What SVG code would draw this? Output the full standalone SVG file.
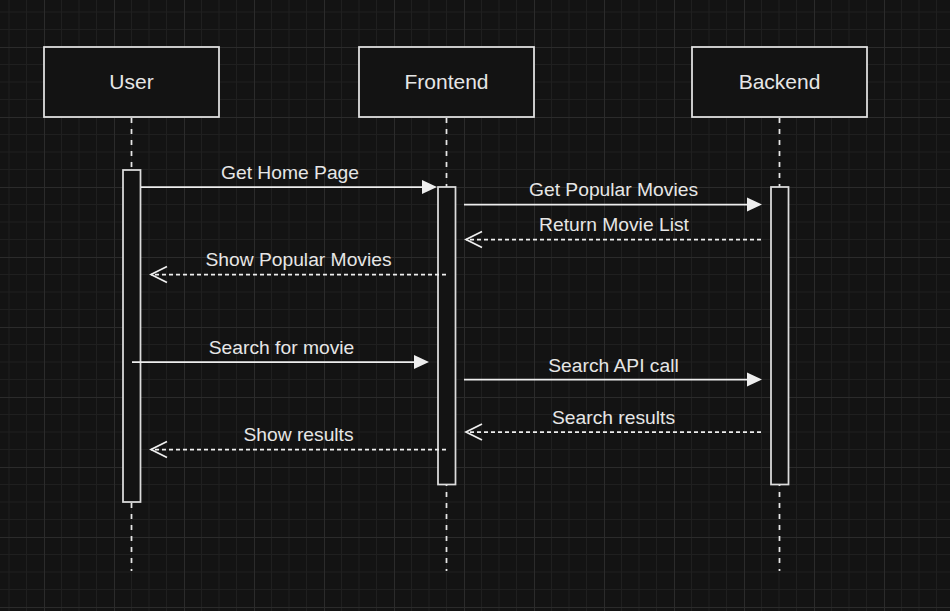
<svg xmlns="http://www.w3.org/2000/svg" width="950" height="611" viewBox="0 0 950 611">
<defs>
<pattern id="grid" patternUnits="userSpaceOnUse" x="44" y="47" width="70" height="70">
<rect width="70" height="70" fill="#131313"/>
<path d="M17.5 0V70M35 0V70M52.5 0V70M0 17.5H70M0 35H70M0 52.5H70" stroke="#1f1f1f" stroke-width="1" fill="none"/>
<path d="M0.5 0V70M0 0.5H70" stroke="#2b2b2b" stroke-width="1" fill="none"/>
</pattern>
<marker id="solidHead" markerUnits="userSpaceOnUse" viewBox="0 0 15 14" markerWidth="15" markerHeight="14" refX="1" refY="7" orient="auto" overflow="visible">
<path d="M0 0L15 7L0 14Z" fill="#eeeeee" stroke="none"/>
</marker>
<marker id="openHead" markerUnits="userSpaceOnUse" viewBox="0 0 16 16" markerWidth="16" markerHeight="16" refX="16" refY="8" orient="auto" overflow="visible">
<path d="M0 0L16 8L0 16" fill="none" stroke="#eeeeee" stroke-width="1.75" stroke-dasharray="none"/>
</marker>
</defs>
<style>
.box{fill:#131313;stroke:#e3e3e3;stroke-width:1.75}
.act{fill:#131313;stroke:#dddddd;stroke-width:1.75}
.life{stroke:#e6e6e6;stroke-width:1.75;stroke-dasharray:5 6;fill:none}
.title{font-family:"Liberation Sans",Arial,sans-serif;font-size:21px;fill:#e6e6e6;text-anchor:middle}
.lbl{font-family:"Liberation Sans",Arial,sans-serif;font-size:19.25px;fill:#e6e6e6;text-anchor:middle}
.msg{stroke:#eeeeee;stroke-width:1.75;fill:none}
.ret{stroke:#eeeeee;stroke-width:1.75;fill:none;stroke-dasharray:4 3}
</style>
<rect width="950" height="611" fill="url(#grid)"/>

<g id="lifelines">
<line class="life" x1="131.5" y1="118" x2="131.5" y2="571"/>
<line class="life" x1="446.5" y1="118" x2="446.5" y2="571"/>
<line class="life" x1="779.5" y1="118" x2="779.5" y2="571"/>
</g>

<g id="user">
<rect class="box" x="44" y="47" width="175" height="70"/>
<text class="title" x="131.5" y="89.3">User</text>
</g>
<g id="frontend">
<rect class="box" x="359" y="47" width="175" height="70"/>
<text class="title" x="446.5" y="89.3">Frontend</text>
</g>
<g id="backend">
<rect class="box" x="692" y="47" width="175" height="70"/>
<text class="title" x="779.5" y="89.3">Backend</text>
</g>

<g id="user-activation">
<rect class="act" x="123" y="170" width="17.5" height="332"/>
</g>
<g id="frontend-activation">
<rect class="act" x="438" y="187" width="17.5" height="297.5"/>
</g>
<g id="backend-activation">
<rect class="act" x="771" y="187" width="17.5" height="297.5"/>
</g>

<g id="connectors">
<line class="msg" x1="141" y1="187" x2="423" y2="187" marker-end="url(#solidHead)"/>
<line class="msg" x1="464" y1="204.5" x2="748" y2="204.5" marker-end="url(#solidHead)"/>
<line class="ret" x1="761" y1="239.5" x2="466" y2="239.5" marker-end="url(#openHead)"/>
<line class="ret" x1="446" y1="274.5" x2="151" y2="274.5" marker-end="url(#openHead)"/>
<line class="msg" x1="132" y1="362" x2="415" y2="362" marker-end="url(#solidHead)"/>
<line class="msg" x1="464" y1="379.5" x2="748" y2="379.5" marker-end="url(#solidHead)"/>
<line class="ret" x1="761" y1="432" x2="466" y2="432" marker-end="url(#openHead)"/>
<line class="ret" x1="446" y1="449.5" x2="151" y2="449.5" marker-end="url(#openHead)"/>
</g>

<g id="labels">
<text class="lbl" x="290" y="178.5">Get Home Page</text>
<text class="lbl" x="613.5" y="196">Get Popular Movies</text>
<text class="lbl" x="614" y="231">Return Movie List</text>
<text class="lbl" x="298.5" y="266">Show Popular Movies</text>
<text class="lbl" x="281.5" y="353.5">Search for movie</text>
<text class="lbl" x="613.5" y="371.5">Search API call</text>
<text class="lbl" x="613.5" y="423.5">Search results</text>
<text class="lbl" x="298.5" y="441">Show results</text>
</g>
</svg>
